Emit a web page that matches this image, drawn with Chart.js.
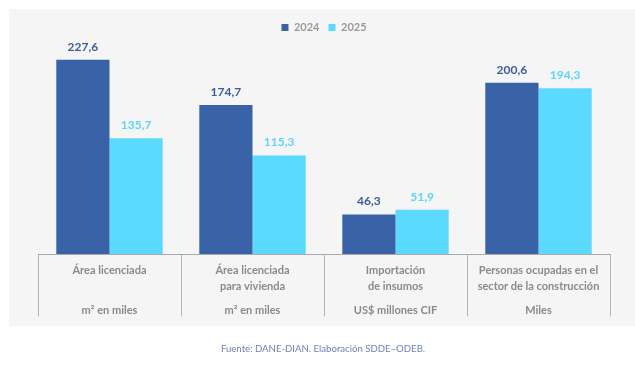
<!DOCTYPE html>
<html>
<head>
<meta charset="utf-8">
<script src="https://cdn.jsdelivr.net/npm/chart.js@4/dist/chart.umd.min.js"></script>
<style>
  html, body { margin: 0; padding: 0; background: #ffffff; }
  #wrap { position: relative; width: 635px; height: 375px; }
  #c { position: absolute; left: 0; top: 0; }
  #foot { position: absolute; left: 0; width: 646px; top: 343px; text-align: center;
          font-family: Lato, sans-serif; font-size: 9.6px; color: #7283b8; }
</style>
</head>
<body>
<div id="wrap">
  <canvas id="c" width="635" height="375"></canvas>
  <div id="foot">Fuente: DANE-DIAN. Elaboración SDDE–ODEB.</div>
</div>
<script>
const categories = [
  ["Área licenciada", "", "", "", "", "m² en miles"],
  ["Área licenciada", "", "para vivienda", "", "", "m² en miles"],
  ["Importación", "", "de insumos", "", "", "US$ millones CIF"],
  ["Personas ocupadas en el", "", "sector de la construcción", "", "", "Miles"]
];
const seriesNames = ["2024", "2025"];
const values2024 = [227.6, 174.7, 46.3, 200.6];
const values2025 = [135.7, 115.3, 51.9, 194.3];
const seriesColors = ["#3a62a7", "#5bd9fe"];
const labelColors = ["#3a5d9f", "#5bd6fc"];

const panelPlugin = {
  id: 'panel',
  beforeDraw(chart) {
    const ctx = chart.ctx;
    ctx.save();
    ctx.fillStyle = '#f5f5f5';
    ctx.fillRect(9, 9, 626, 317);
    ctx.restore();
  }
};

const valueLabels = {
  id: 'valueLabels',
  afterDatasetsDraw(chart) {
    const ctx = chart.ctx;
    ctx.save();
    ctx.font = 'bold 12px Lato, sans-serif';
    ctx.textAlign = 'center';
    ctx.textBaseline = 'middle';
    chart.data.datasets.forEach((ds, di) => {
      const meta = chart.getDatasetMeta(di);
      ctx.fillStyle = labelColors[di];
      meta.data.forEach((el, i) => {
        const v = ds.data[i];
        ctx.fillText(v.toFixed(1).replace('.', ','), el.x, el.y - 13);
      });
    });
    ctx.restore();
  }
};

new Chart(document.getElementById('c'), {
  type: 'bar',
  data: {
    labels: categories,
    datasets: [
      { label: seriesNames[0], data: values2024, backgroundColor: seriesColors[0] },
      { label: seriesNames[1], data: values2025, backgroundColor: seriesColors[1] }
    ]
  },
  options: {
    responsive: false,
    animation: false,
    devicePixelRatio: 1,
    categoryPercentage: 0.744,
    barPercentage: 1.0,
    layout: { padding: { left: 38, right: 25, top: 13, bottom: 51 } },
    plugins: {
      tooltip: { enabled: false },
      legend: {
        display: true,
        position: 'top',
        align: 'center',
        labels: {
          boxWidth: 7,
          boxHeight: 7,
          padding: 9,
          color: '#9a9a9a',
          font: { family: 'Lato, sans-serif', size: 11, weight: 'bold' }
        }
      }
    },
    scales: {
      x: {
        offset: true,
        grid: {
          offset: true,
          drawOnChartArea: false,
          drawTicks: true,
          tickLength: 62.5,
          tickColor: '#b4b4b4',
          tickWidth: 1
        },
        border: { display: true, color: '#a9a9a9', width: 1 },
        ticks: {
          autoSkip: false,
          maxRotation: 0,
          minRotation: 0,
          padding: -49.8,
          color: '#8a8a8a',
          font: { family: 'Lato, sans-serif', size: 11, weight: 'bold', lineHeight: 0.72 }
        },
        afterFit(scale) { scale.height = 70; }
      },
      y: {
        display: false,
        min: 0,
        max: 247.3
      }
    }
  },
  plugins: [panelPlugin, valueLabels]
});
</script>
</body>
</html>
